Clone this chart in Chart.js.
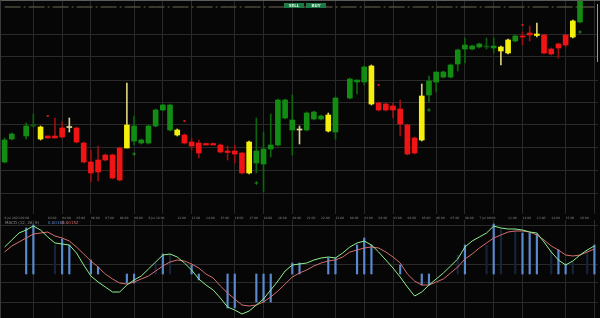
<!DOCTYPE html>
<html>
<head>
<meta charset="utf-8">
<script src="https://cdn.jsdelivr.net/npm/chart.js@4.4.0/dist/chart.umd.min.js"></script>
<style>
  html, body { margin: 0; padding: 0; background: #060606; }
  #wrap { position: relative; width: 600px; height: 318px; overflow: hidden; background: #060606; }
  #top { position: absolute; left: 0; top: 0; }
  #bottom { position: absolute; left: 0; top: 220px; }
  .frameTop { position: absolute; left: 0; top: 0; width: 600px; height: 1px; background: #5c5c5c; }
  .frameLeft { position: absolute; left: 0; top: 0; width: 1px; height: 318px; background: #3a3a3a; }
  .bracket { position: absolute; left: 597px; top: 4px; width: 1px; height: 58px; background: #9a9a9a; }
</style>
</head>
<body>
<div id="wrap">
  <canvas id="top" width="600" height="220"></canvas>
  <canvas id="bottom" width="600" height="98"></canvas>
  <div class="frameTop"></div>
  <div class="frameLeft"></div>
  <div class="bracket"></div>
</div>
<script>
// 30 min bars, time labels every hour
const tickLabels = [
  '6 Jul 2023 00:00','','','','','','03:00','','04:00','','05:00','','06:00','','07:00','','08:00','','09:00','',
  '6 Jul 10:00','','','','12:00','','13:00','','14:00','','15:00','','16:00','','17:00','','18:00','','19:00','',
  '20:00','','21:00','','22:00','','23:00','','00:00','','01:00','','02:00','','03:00','','04:00','','05:00','',
  '06:00','','07:00','','08:00','','7 Jul 09:00','','','','11:00','','12:00','','13:00','','14:00','','15:00','',
  '16:00','',''
];

// candles (price points)
const opens  = [58,81,null,84,94,81,84,84,92,93.5,92,77,58,60,65,65,72,72,79,77,
                77,94,110,90,85,85,78,77,76.5,76.5,75,69,69,67,47,57,56,71,75,102,
                90,91,90,101,101,89,88,null,122,138,138,154,117,116,114,111,95,82,80,125,
                138,143,143,156,171,171,173,173,172,173,167,179,184,187,184.5,185,171,176,185,183,
                198,null,null];
const highs  = [82,87,null,97,106,94,84,102,98,102,93,78,70,74,66,66,73,137,104,81,
                95,111,116,116,91,86,82,80,77,77,76,74,75,68,79,102,88,106,121,121,
                125,94,108,109,105,107,123,null,142,140,154,155,118,117,117,120,96,83,136,144,
                148,149,156,171,182,175,177,182,182,174,181,185,188,194,197,186,172,177,186,200,
                226,null,null];
const lows   = [57,80,null,81,93,80,82,82,82,88,77,57,38,39,59,41,39,72,75,76,
                76,93,109,89,84,76,70,62,75,75,67,60,57,46,46,47,28,63,74,101,
                65,76,89,100,100,88,81,null,121,126,135,115,109,109,102,84,65,66,79,118,
                128,142,142,149,157,170,172,171,167,155,166,178,175,179,183,166,165,162,173,182,
                197,null,null];
const closes = [80,86,null,94,95,93,82,82,83,92.5,78,58,47,48,60,42,40,95,94,80,
                94,110,115,115,90,77,74,67,75,75,68,67.5,66,47,78,69,71,75,120,120,
                100,90,107,108,104,105,122,null,141,140,153,116,110,110,110,96,66,67,124,139,
                148,148,155,170,175,174,176,174,174,169,180,184,183,185,186,167,166,172,175,199,
                225,null,null];
// bar class as painted by the indicator
const kinds  = ['up','up',null,'up','flat','flag','down','down','down','doji','down','down','down','down','down','down','down','flag','up','up',
                'up','up','up','up','flag','down','down','down','down','down','down','down','down','down','flag','up','up','up','up','up',
                'up','doji','up','up','up','flag','up',null,'up','up','up','flag','down','down','down','down','down','down','flag','up',
                'up','up','up','up','up','up','up','flat','up','flag','flag','up','down','down','flag','down','down','down','down','flag',
                'up',null,null];

const sellIdx = [6, 25, 52, 72];
const sellLevel = [104, 99, 135, 195];
const buyIdx = [18, 35, 59, 80];
const buyLevel = [66, 37, 110, 188];
const alertLevel = 213;

const priceGrid = [185, 163, 140, 118, 96, 73, 50, 27];
const gridBars = [4, 8, 12, 18, 22, 26, 32, 36, 40, 46, 50, 54, 60, 64, 68, 72, 78, 82];

// oscillator panel
const fast = [27,34,41,44,48,44,37,31,30,29,21,9,-2,-8,-13,-18,-18,-11,-6,-2,
              5,12,19,20,17,11,4,-5,-11,-16,-24,-33,-36,-40,-37,-31,-25,-16,-7,3,
              9,10,11,14,16,17,16,21,27,31,33,29,22,14,6,-3,-13,-22,-18,-11,
              -5,1,8,15,27,33,37,41,48,46,45,45,44,42,41,32,22,14,9,13,
              19,24,28];
const slow = [22,28,32,36,40,41,42,38,36,33,27,20,13,7,0,-5,-9,-10,-8,-5,
              -2,3,8,12,14,13,10,6,0,-4,-12,-19,-25,-31,-32,-31,-28,-23,-17,-10,
              -3,1,4,8,11,13,14,17,22,24,26,27,26,22,17,11,0,-7,-11,-11,
              -8,-5,1,7,15,20,26,31,36,39,42,43,43,42,39,34,28,24,19,18,
              19,22,25];
const hist = [null,null,null,46,49,null,null,29,35,29,null,null,14,7,null,null,null,-9,-9,null,
              null,11,20,20,null,null,9,-6,null,null,null,-34,-34,null,null,-28,-28,-28,null,null,
              11,11,null,null,null,16,16,null,null,29,36,29,null,null,null,9,null,null,-11,-11,
              null,null,null,19,29,null,null,29,50,45,null,45,41,41,40,null,24,24,10,12,
              null,24,29];
const histLit = [3,4,8,9,12,13,17,18,22,26,27,31,32,35,36,37,40,41,45,46,49,50,51,55,58,59,64,68,72,73,74,77,78,82];
const oscGrid = [48, 10, -9, -28];

const bodyColor = { up: '#128c12', down: '#f01414', flag: '#f4ef0c', doji: '#e6dd9c', flat: '#0e5e0e' };
const wickColor = { up: '#0d650d', down: '#961212', flag: '#d9d27a', doji: '#d8cf90', flat: '#0e5e0e' };

const n = tickLabels.length;
const bodies = kinds.map((k, i) => k ? [Math.min(opens[i], closes[i]), Math.max(opens[i], closes[i])] : null);
const wicks = kinds.map((k, i) => k ? [lows[i], highs[i]] : null);
const sellMarks = new Array(n).fill(null);
sellIdx.forEach((x, j) => { sellMarks[x] = sellLevel[j]; });
const buyMarks = new Array(n).fill(null);
buyIdx.forEach((x, j) => { buyMarks[x] = buyLevel[j]; });

const gridColor = '#2a2a2a';
const xGrid = { offset: false, drawTicks: false, color: ctx => gridBars.includes(ctx.index) ? gridColor : 'rgba(0,0,0,0)' };

const topText = {
  id: 'topText',
  afterDraw(chart) {
    const c = chart.ctx;
    c.save();
    c.fillStyle = '#1d7a46';
    c.fillRect(284, 3, 20, 5);
    c.fillRect(306, 3, 20, 5);
    c.fillStyle = '#d8f0e0';
    c.font = 'bold 4px "DejaVu Sans"';
    c.textBaseline = 'middle';
    c.textAlign = 'center';
    c.fillText('SELL', 294, 5.6);
    c.fillText('BUY', 316, 5.6);
    c.restore();
  }
};

new Chart(document.getElementById('top'), {
  type: 'bar',
  data: {
    labels: tickLabels,
    datasets: [
      { type: 'line', data: new Array(n).fill(alertLevel), borderColor: '#6f6852', borderWidth: 1,
        borderDash: [16, 3, 2, 3], pointRadius: 0, order: 0 },
      { type: 'line', data: sellMarks, showLine: false, pointStyle: 'rect', pointRadius: 1.4,
        pointBackgroundColor: '#c81818', pointBorderWidth: 0, order: 1 },
      { type: 'line', data: buyMarks, showLine: false, pointStyle: 'cross', pointRadius: 1.8,
        pointBorderColor: '#1a8a1a', pointBorderWidth: 1, order: 1 },
      { data: bodies, backgroundColor: kinds.map(k => k ? bodyColor[k] : null),
        barThickness: 5, grouped: false, minBarLength: 1, order: 2 },
      { data: wicks, backgroundColor: kinds.map(k => k ? wickColor[k] : null),
        barThickness: 1, grouped: false, order: 3 }
    ]
  },
  options: {
    responsive: false,
    animation: false,
    layout: { autoPadding: false, padding: { left: 1, right: 2, top: 0, bottom: 0 } },
    plugins: { legend: { display: false }, tooltip: { enabled: false } },
    scales: {
      x: {
        offset: true,
        grid: xGrid,
        border: { display: false },
        ticks: { autoSkip: false, maxRotation: 0, align: 'start', padding: 2, color: '#8a8a8a',
                 font: { size: 3, family: 'DejaVu Sans' } },
        afterFit: s => { s.height = 6; }
      },
      y: {
        min: 6, max: 220,
        afterBuildTicks: s => { s.ticks = priceGrid.map(v => ({ value: v })); },
        grid: { color: gridColor, drawTicks: false },
        border: { display: false },
        ticks: { display: false }
      }
    }
  },
  plugins: [topText]
});

const oscText = {
  id: 'oscText',
  afterDraw(chart) {
    const c = chart.ctx;
    c.save();
    c.font = '4px "DejaVu Sans"';
    c.textBaseline = 'middle';
    c.fillStyle = '#8c8c8c';
    c.fillText('MACD (12, 26, 9)', 5, 3);
    c.fillStyle = '#5b8fd8';
    c.fillText('0.00183', 48, 3);
    c.fillStyle = '#d86a6a';
    c.fillText('0.00152', 62, 3);
    c.restore();
  }
};

new Chart(document.getElementById('bottom'), {
  type: 'bar',
  data: {
    labels: tickLabels,
    datasets: [
      { type: 'line', data: fast, borderColor: '#8ef08e', borderWidth: 1, pointRadius: 0, order: 1 },
      { type: 'line', data: slow, borderColor: '#d66e6e', borderWidth: 1, pointRadius: 0, order: 2 },
      { data: hist.map(v => v == null ? null : [0, v]),
        backgroundColor: hist.map((v, i) => histLit.includes(i) ? '#5a8ad0' : '#16233a'),
        barThickness: 1.5, grouped: false, order: 3 }
    ]
  },
  options: {
    responsive: false,
    animation: false,
    layout: { autoPadding: false, padding: { left: 1, right: 2, top: 0, bottom: 0 } },
    plugins: { legend: { display: false }, tooltip: { enabled: false } },
    scales: {
      x: {
        offset: true,
        grid: xGrid,
        border: { display: false },
        ticks: { display: false },
        afterFit: s => { s.height = 0; }
      },
      y: {
        min: -44, max: 54,
        afterBuildTicks: s => { s.ticks = oscGrid.map(v => ({ value: v })); },
        grid: { color: gridColor, drawTicks: false },
        border: { display: false },
        ticks: { display: false }
      }
    }
  },
  plugins: [oscText]
});
</script>
</body>
</html>
